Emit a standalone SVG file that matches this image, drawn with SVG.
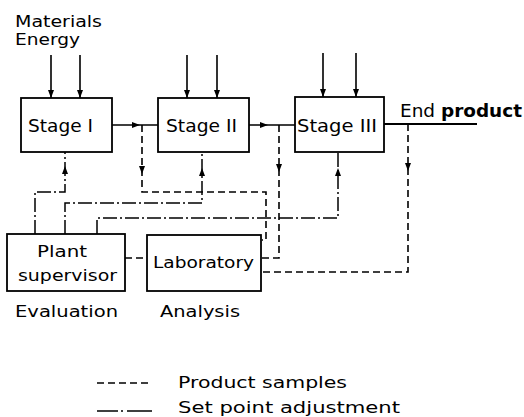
<svg xmlns="http://www.w3.org/2000/svg" width="524" height="417" viewBox="0 0 524 417">
<style>
  .box{fill:#fff;stroke:#000;stroke-width:1.8}
  .t{font-family:"DejaVu Sans","Liberation Sans",sans-serif;font-size:16px;fill:#000}
  .st{font-family:"DejaVu Sans","Liberation Sans",sans-serif;font-size:17px;fill:#000}
  .solid{fill:none;stroke:#000;stroke-width:1.6}
  .ps{fill:none;stroke:#000;stroke-width:1.6;stroke-dasharray:7 4}
  .sp{fill:none;stroke:#000;stroke-width:1.5;stroke-dasharray:14 3 2 3}
  .ah{fill:#000}
</style>
<defs>
  <path id="ah" d="M0,0 L-8,-3 L-8,3 Z"/>
</defs>
<rect width="524" height="417" fill="#fff"/>
<g id="labels-top">
  <text class="t" x="15" y="27" textLength="87" lengthAdjust="spacingAndGlyphs">Materials</text>
  <text class="t" x="15" y="45" textLength="65" lengthAdjust="spacingAndGlyphs">Energy</text>
</g>
<g id="connectors">
  <!-- inputs -->
  <path class="solid" d="M51,55 V98 M80,55 V98 M187,55 V98 M217,55 V98 M323,53 V97 M356,53 V97"/>
  <use href="#ah" class="ah" transform="translate(51,98) rotate(90)"/>
  <use href="#ah" class="ah" transform="translate(80,98) rotate(90)"/>
  <use href="#ah" class="ah" transform="translate(187,98) rotate(90)"/>
  <use href="#ah" class="ah" transform="translate(217,98) rotate(90)"/>
  <use href="#ah" class="ah" transform="translate(323,97) rotate(90)"/>
  <use href="#ah" class="ah" transform="translate(356,97) rotate(90)"/>
  <!-- main flow -->
  <path class="solid" d="M112,125 H158 M249,125 H295"/>
  <path fill="none" stroke="#000" stroke-width="2.2" d="M384,124 H477"/>
  <use href="#ah" class="ah" transform="translate(140,125)"/>
  <use href="#ah" class="ah" transform="translate(268,125)"/>
  <!-- product samples -->
  <path class="ps" d="M142,125 V192 H266 V240 H262"/>
  <path class="ps" d="M279,125 V258 H262"/>
  <path class="ps" d="M408,124 V272 H262"/>
  <path class="ps" d="M125,258 H147"/>
  <use href="#ah" class="ah" transform="translate(142,174) rotate(90)"/>
  <use href="#ah" class="ah" transform="translate(279,172) rotate(90)"/>
  <use href="#ah" class="ah" transform="translate(408,171) rotate(90)"/>
  <!-- set point adjustment -->
  <path class="sp" d="M35,234 V192 H65 V152"/>
  <path class="sp" d="M65,234 V203 H202 V152"/>
  <path class="sp" d="M97,234 V218 H338 V152"/>
  <use href="#ah" class="ah" transform="translate(65,166) rotate(-90)"/>
  <use href="#ah" class="ah" transform="translate(202,168) rotate(-90)"/>
  <use href="#ah" class="ah" transform="translate(338,168) rotate(-90)"/>
</g>
<g id="stage1">
  <rect class="box" x="21" y="98" width="91" height="54"/>
  <text class="st" x="28" y="132" textLength="65" lengthAdjust="spacingAndGlyphs">Stage I</text>
</g>
<g id="stage2">
  <rect class="box" x="158" y="98" width="91" height="54"/>
  <text class="st" x="166" y="132" textLength="71" lengthAdjust="spacingAndGlyphs">Stage II</text>
</g>
<g id="stage3">
  <rect class="box" x="295" y="97" width="89" height="55"/>
  <text class="st" x="297" y="132" textLength="80" lengthAdjust="spacingAndGlyphs">Stage III</text>
</g>
<g id="end-product">
  <text class="st" x="400" y="117" textLength="122" lengthAdjust="spacingAndGlyphs">End <tspan font-weight="bold">product</tspan></text>
</g>
<g id="plant-supervisor">
  <rect class="box" x="7" y="234" width="118" height="57"/>
  <text class="t" x="37" y="257" textLength="50" lengthAdjust="spacingAndGlyphs">Plant</text>
  <text class="t" x="18" y="281" textLength="99" lengthAdjust="spacingAndGlyphs">supervisor</text>
  <text class="t" x="15" y="317" textLength="103" lengthAdjust="spacingAndGlyphs">Evaluation</text>
</g>
<g id="laboratory">
  <rect class="box" x="147" y="235" width="114" height="56"/>
  <text class="t" x="153" y="268" textLength="101" lengthAdjust="spacingAndGlyphs">Laboratory</text>
  <text class="t" x="160" y="317" textLength="80" lengthAdjust="spacingAndGlyphs">Analysis</text>
</g>
<g id="legend">
  <path class="ps" d="M97,383 H152" stroke-dasharray="10 4"/>
  <path fill="none" stroke="#000" stroke-width="1.6" d="M97,411 H118 M121,411 H123 M127,411 H152"/>
  <text class="t" x="178" y="388" textLength="169" lengthAdjust="spacingAndGlyphs">Product samples</text>
  <text class="t" x="178" y="413" textLength="222" lengthAdjust="spacingAndGlyphs">Set point adjustment</text>
</g>
</svg>
